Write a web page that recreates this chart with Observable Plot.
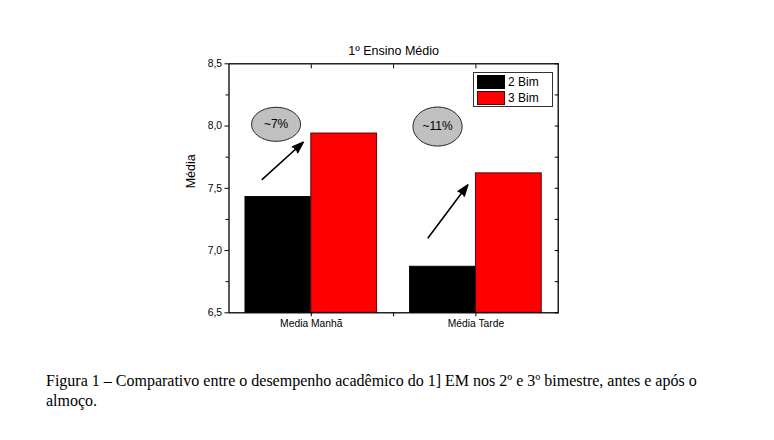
<!DOCTYPE html>
<html>
<head>
<meta charset="utf-8">
<script src="https://cdn.jsdelivr.net/npm/d3@7"></script>
<script src="https://cdn.jsdelivr.net/npm/@observablehq/plot@0.6"></script>
<style>
  html, body { margin: 0; padding: 0; background: #fff; }
  #wrap { position: relative; width: 774px; height: 440px; }
  #legend { position: absolute; left: 473px; top: 71.5px; width: 75px; height: 32px;
    border: 1px solid #333; background: #fff; font: 12px "Liberation Sans", Arial, sans-serif; padding: 1px 0 0 3px; box-sizing: content-box; }
  #legend .row { display: flex; align-items: center; height: 16.5px; }
  #legend .sw { width: 28px; height: 14px; margin-right: 3px; box-sizing: border-box; }
  #caption { position: absolute; left: 46px; top: 371px; width: 700px;
    font: 16px/20px "Liberation Serif", "Times New Roman", serif; color: #000; }
</style>
</head>
<body>
<div id="wrap">
  <div id="chart"></div>
  <div id="legend"></div>
  <div id="caption">Figura 1 – Comparativo entre o desempenho acadêmico do 1] EM nos 2º e 3º bimestre, antes e após o almoço.</div>
</div>
<script>
// ---- data ----
const title = "1º Ensino Médio";
const yLabel = "Média";
const categories = ["Media Manhã", "Média Tarde"];
const series = ["2 Bim", "3 Bim"];
const seriesColors = ["#000000", "#ff0000"];
const bim2 = [7.43, 6.87];
const bim3 = [7.94, 7.62];
const yMajorTicks = [6.5, 7.0, 7.5, 8.0, 8.5];
const yMinorTicks = [6.75, 7.25, 7.75, 8.25];
// annotations (data units)
const annotLabels = ["~7%", "~11%"];
const annotX = [0.286, 1.267];
const annotY = [8.014, 7.996];
const arrowX1 = [0.202, 1.210];
const arrowY1 = [7.571, 7.102];
const arrowX2 = [0.451, 1.451];
const arrowY2 = [7.870, 7.528];

// ---- tables ----
const bars = [];
categories.forEach((c, i) => {
  bars.push({cat: c, i, s: series[0], lo: i + 0.1, hi: i + 0.5, v: bim2[i]});
  bars.push({cat: c, i, s: series[1], lo: i + 0.5, hi: i + 0.9, v: bim3[i]});
});
const annots = annotLabels.map((t, k) => ({t, x: annotX[k], y: annotY[k]}));
const arrows = arrowX1.map((x, k) => ({x1: x, y1: arrowY1[k], x2: arrowX2[k], y2: arrowY2[k]}));

function ellipseSymbol(aspect) {
  return {
    draw(ctx, size) {
      const ry = Math.sqrt(size / Math.PI), rx = ry * aspect, k = 0.5523;
      ctx.moveTo(rx, 0);
      ctx.bezierCurveTo(rx, k * ry, k * rx, ry, 0, ry);
      ctx.bezierCurveTo(-k * rx, ry, -rx, k * ry, -rx, 0);
      ctx.bezierCurveTo(-rx, -k * ry, -k * rx, -ry, 0, -ry);
      ctx.bezierCurveTo(k * rx, -ry, rx, -k * ry, rx, 0);
      ctx.closePath();
    }
  };
}
const ellSizes = [[17, 1.44], [19.5, 1.26]];

const fmt = d => d.toFixed(1).replace(".", ",");
const none = () => "";
const xFmt = v => {
  const j = v - 0.5;
  return Number.isInteger(j) && categories[j] !== undefined ? categories[j] : "";
};
const yDom = [yMajorTicks[0], yMajorTicks[yMajorTicks.length - 1]];
const allY = [...yMajorTicks, ...yMinorTicks];
const xTicks = [0.5, 1, 1.5];

const chart = Plot.plot({
  width: 774,
  height: 350,
  marginLeft: 228.5,
  marginRight: 216.3,
  marginTop: 63.3,
  marginBottom: 37.7,
  style: {fontFamily: "'Liberation Sans', Arial, sans-serif", fontSize: "10.3px", color: "#000", background: "transparent"},
  x: {domain: [0, categories.length], axis: null},
  y: {domain: yDom, axis: null},
  color: {domain: series, range: seriesColors},
  marks: [
    Plot.rect(bars, {x1: "lo", x2: "hi", y1: yDom[0], y2: "v", fill: "s",
      stroke: d => d.s === series[1] ? "#4a0000" : "#000", strokeWidth: 0.9}),
    Plot.frame({stroke: "#000", strokeWidth: 1.3}),
    Plot.axisY({ticks: yMajorTicks, tickFormat: fmt, tickSize: 4, tickPadding: 3, label: null, fontSize: 10.3}),
    Plot.axisY({ticks: yMinorTicks, tickFormat: none, tickSize: 3, label: null}),
    Plot.axisY({anchor: "right", ticks: allY, tickFormat: none, tickSize: -4, label: null}),
    Plot.axisX({ticks: xTicks, tickFormat: xFmt, tickSize: 4, tickPadding: 3, label: null, fontSize: 10.3}),
    Plot.axisX({anchor: "top", ticks: xTicks, tickFormat: none, tickSize: -4, label: null}),
    Plot.text([yLabel], {frameAnchor: "left", dx: -38, rotate: -90, fontSize: 12.5, fill: "#000"}),
    ...annots.map((a, k) => Plot.dot([a], {x: "x", y: "y", r: ellSizes[k][0],
      symbol: ellipseSymbol(ellSizes[k][1]), fill: "#c0c0c0", stroke: "#222", strokeWidth: 1})),
    Plot.text(annots, {x: "x", y: "y", text: "t", fontSize: 12, fill: "#000"}),
    Plot.arrow(arrows, {x1: "x1", y1: "y1", x2: "x2", y2: "y2", stroke: "#000", fill: "#000",
      strokeWidth: 1.6, headLength: 11, headAngle: 38}),
    Plot.text([title], {frameAnchor: "top", dy: -17.6, fontSize: 12.5, fill: "#000"})
  ]
});
document.getElementById("chart").appendChild(chart);

// legend
const lg = document.getElementById("legend");
series.forEach((s, k) => {
  const row = document.createElement("div");
  row.className = "row";
  const sw = document.createElement("div");
  sw.className = "sw";
  sw.style.background = seriesColors[k];
  sw.style.border = "1px solid " + (k === 1 ? "#4a0000" : "#000");
  const t = document.createElement("span");
  t.textContent = s;
  row.appendChild(sw); row.appendChild(t);
  lg.appendChild(row);
});
</script>
</body>
</html>
